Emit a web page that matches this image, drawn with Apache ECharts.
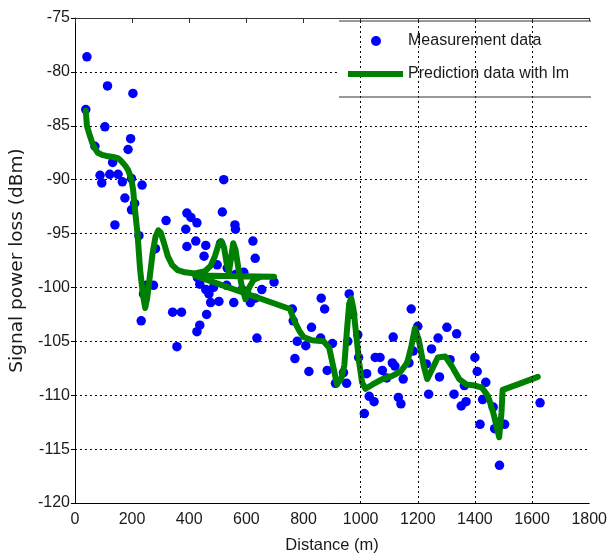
<!DOCTYPE html>
<html>
<head>
<meta charset="utf-8">
<script src="https://cdn.jsdelivr.net/npm/echarts@6/dist/echarts.min.js"></script>
<style>
html,body{margin:0;padding:0;background:#fff;}
#chart{width:610px;height:559px;}
</style>
</head>
<body>
<div id="chart"></div>
<script>
// Measurement data (distance m, signal power loss dBm)
const measX = [42,38,114,203,105,195,186,70,132,88,94,122,151,166,198,235,175,209,198,140,224,319,392,406,427,388,521,516,560,562,423,392,458,510,623,282,452,631,498,533,591,562,697,429,437,250,275,531,458,485,469,585,654,475,504,556,614,631,342,373,461,232,437,427,637,357,240,761,764,778,770,862,874,960,972,828,808,860,901,955,990,819,883,940,912,951,993,1021,1051,1068,1030,1047,1013,1076,1091,1114,1111,1120,1149,1132,1141,1177,1200,1184,1169,1230,1238,1248,1271,1276,1302,1336,1313,1327,1352,1369,1363,1400,1408,1438,1427,1418,1464,1469,1481,1504,1486,1628];
const measY = [-78.6,-83.5,-81.3,-82.0,-85.1,-86.2,-87.2,-86.9,-88.4,-89.6,-90.3,-89.5,-89.5,-90.2,-89.9,-90.5,-91.7,-92.2,-92.8,-94.2,-95.2,-93.8,-93.1,-93.5,-94.0,-94.6,-90.0,-93.0,-94.2,-94.6,-95.7,-96.2,-96.1,-95.9,-95.7,-96.4,-97.1,-97.3,-97.9,-98.2,-98.6,-98.8,-99.5,-99.1,-99.7,-99.8,-99.8,-99.8,-100.2,-100.0,-100.6,-100.2,-100.2,-101.4,-101.3,-101.4,-101.4,-101.0,-102.3,-102.3,-102.5,-103.1,-103.5,-104.1,-104.7,-105.5,-100.6,-102.0,-103.1,-105.0,-106.6,-101.0,-102.0,-100.6,-102.5,-103.7,-105.4,-104.7,-105.2,-105.0,-104.4,-107.8,-107.7,-107.9,-108.9,-108.9,-106.5,-108.0,-106.5,-106.5,-110.1,-110.6,-111.7,-107.7,-108.4,-104.6,-107.0,-107.3,-108.5,-110.2,-110.8,-102.0,-103.6,-105.9,-107.0,-107.1,-109.9,-105.7,-104.7,-108.3,-103.7,-104.3,-106.7,-109.9,-111.0,-110.6,-109.1,-106.5,-107.8,-108.8,-110.4,-112.7,-111.1,-113.1,-112.5,-112.7,-116.5,-110.7];

// Prediction data with lm (in plotted order)
const predX = [38,42,52,61,70,80,95,110,134,150,163,176,186,193,198,204,209,219,228,238,246,253,262,272,282,292,300,312,325,340,360,385,420,455,475,490,503,512,522,530,539,547,554,562,572,585,597,610,625,650,697,420,753,766,785,800,830,870,890,903,917,933,943,952,960,967,975,985,995,1005,1017,1042,1076,1111,1140,1163,1178,1190,1203,1221,1233,1250,1270,1296,1319,1345,1370,1400,1425,1446,1464,1485,1493,1497,1550,1620];
const predY = [-83.6,-85.0,-85.9,-86.6,-87.1,-87.5,-87.7,-87.8,-87.9,-88.0,-88.3,-88.7,-89.1,-89.6,-90.0,-91.0,-92.5,-95.0,-98.3,-100.7,-101.9,-101.0,-99.0,-96.8,-95.3,-94.7,-94.9,-95.9,-97.1,-97.9,-98.4,-98.6,-98.7,-98.5,-98.0,-97.1,-96.0,-95.7,-96.3,-97.6,-98.6,-97.2,-95.9,-96.5,-98.2,-100.0,-101.1,-100.0,-99.3,-99.0,-99.0,-98.9,-102.0,-103.0,-104.0,-104.6,-104.9,-105.0,-105.6,-107.2,-109.0,-108.4,-107.2,-104.0,-101.5,-101.0,-102.0,-104.5,-107.0,-108.8,-109.4,-109.0,-108.5,-108.2,-107.8,-107.0,-105.4,-103.8,-104.8,-107.3,-108.5,-107.6,-106.5,-106.4,-107.3,-108.5,-109.0,-109.1,-109.3,-110.1,-111.6,-113.9,-111.6,-109.5,-109.0,-108.3];

// Axis settings
const xMin = 0, xMax = 1800, xStep = 200;
const yMin = -120, yMax = -75, yStep = 5;
const vGridX = [1000, 1200, 1400, 1600];

const FONT = '"Liberation Sans", Arial, sans-serif';
const chart = echarts.init(document.getElementById('chart'), null, {renderer: 'canvas'});

const measData = measX.map((x, i) => [x, measY[i]]);
const predData = predX.map((x, i) => [x, predY[i]]);

chart.setOption({
  animation: false,
  backgroundColor: '#fff',
  grid: {left: 73, right: 18, top: 18, bottom: 55, containLabel: false},
  xAxis: [{
    type: 'value', min: xMin, max: xMax, interval: xStep, position: 'bottom',
    name: 'Distance (m)', nameLocation: 'middle', nameGap: 34,
    nameTextStyle: {fontFamily: FONT, fontSize: 16.5, color: '#1a1a1a'},
    axisLine: {show: true, lineStyle: {color: '#000', width: 1}},
    axisTick: {show: false},
    axisLabel: {fontFamily: FONT, fontSize: 16, color: '#1a1a1a', margin: 9, formatter: v => String(v)},
    splitLine: {show: false}
  }, {
    type: 'value', min: xMin, max: xMax, interval: xStep, position: 'top',
    axisLine: {show: true, lineStyle: {color: '#333', width: 1}},
    axisTick: {show: true, inside: true, length: 5, lineStyle: {color: '#333'}},
    axisLabel: {show: false},
    splitLine: {show: false}
  }],
  yAxis: {
    type: 'value', min: yMin, max: yMax, interval: yStep,
    name: 'Signal power loss (dBm)', nameLocation: 'middle', nameGap: 46, nameRotate: 90,
    nameTextStyle: {fontFamily: '"DejaVu Sans", sans-serif', fontSize: 18.5, color: '#1a1a1a'},
    axisLine: {show: true, lineStyle: {color: '#000', width: 1}},
    axisTick: {show: true, inside: false, length: 4, lineStyle: {color: '#000'}},
    axisLabel: {fontFamily: FONT, fontSize: 16, color: '#1a1a1a', margin: 5, formatter: v => String(v)},
    splitLine: {show: true, lineStyle: {color: '#000', type: [2, 3], width: 1}}
  },
  legend: [{
    data: [{name: 'Measurement data', icon: 'circle'}],
    left: 371, top: 33, orient: 'vertical', z: 10,
    itemWidth: 10, itemHeight: 10, itemGap: 0, padding: 0,
    textStyle: {fontFamily: FONT, fontSize: 16, color: '#1a1a1a', padding: [0, 0, 0, 22]}
  }, {
    data: [{name: 'Prediction data with lm', icon: 'rect'}],
    left: 348, top: 66, orient: 'vertical', z: 10,
    itemWidth: 55, itemHeight: 6, itemGap: 0, padding: 0,
    textStyle: {fontFamily: FONT, fontSize: 16, color: '#1a1a1a', padding: [9, 0, 0, 0]}
  }],
  graphic: [
    {type: 'rect', z: 5, shape: {x: 339, y: 21, width: 252, height: 76}, style: {fill: '#fff'}, silent: true},
    {type: 'line', z: 6, shape: {x1: 339, y1: 21, x2: 591, y2: 21}, style: {stroke: '#333', lineWidth: 1}, silent: true},
    {type: 'line', z: 6, shape: {x1: 339, y1: 97, x2: 591, y2: 97}, style: {stroke: '#333', lineWidth: 1}, silent: true}
  ],
  series: [{
    name: 'Measurement data',
    type: 'scatter',
    data: measData,
    symbol: 'circle',
    symbolSize: 9.5,
    itemStyle: {color: '#0000ff', opacity: 1},
    markLine: {
      silent: true, symbol: ['none', 'none'], label: {show: false},
      lineStyle: {color: '#000', type: [2, 3], width: 1},
      data: vGridX.map(v => ({xAxis: v}))
    }
  }, {
    name: 'Prediction data with lm',
    type: 'line',
    data: predData,
    showSymbol: false,
    symbol: 'none',
    itemStyle: {color: '#008000'},
    lineStyle: {color: '#008000', width: 6, cap: 'round', join: 'round'}
  }]
});
</script>
</body>
</html>
